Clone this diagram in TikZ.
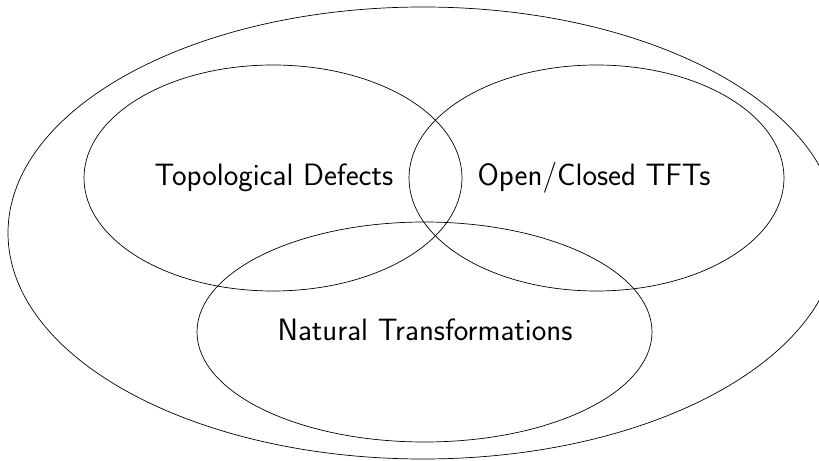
\documentclass[tikz,border=0pt]{standalone}
\begin{document}
\begin{tikzpicture}[x=1bp,y=-1bp,
  venn/.style={draw=black,line width=0.7bp},
  lbl/.style={font=\fontsize{31}{36}\selectfont\sffamily,inner sep=0pt}]
\useasboundingbox (0,0) rectangle (819,461);
\begin{scope}
\clip (0,0) rectangle (819,461);
\draw[venn] (423,233) ellipse [x radius=415, y radius=226];
\end{scope}
\draw[venn] (273,178) ellipse [x radius=189, y radius=113];
\draw[venn] (596.5,178) ellipse [x radius=187.5, y radius=113];
\draw[venn] (424.5,332) ellipse [x radius=227.5, y radius=110];
\node[lbl] (td) at (274,178) {Topological Defects};
\node[lbl] (oc) at (594,178) {Open/Closed TFTs};
\node[lbl] (nt) at (425,330) {Natural Transformations};
\end{tikzpicture}
\end{document}
